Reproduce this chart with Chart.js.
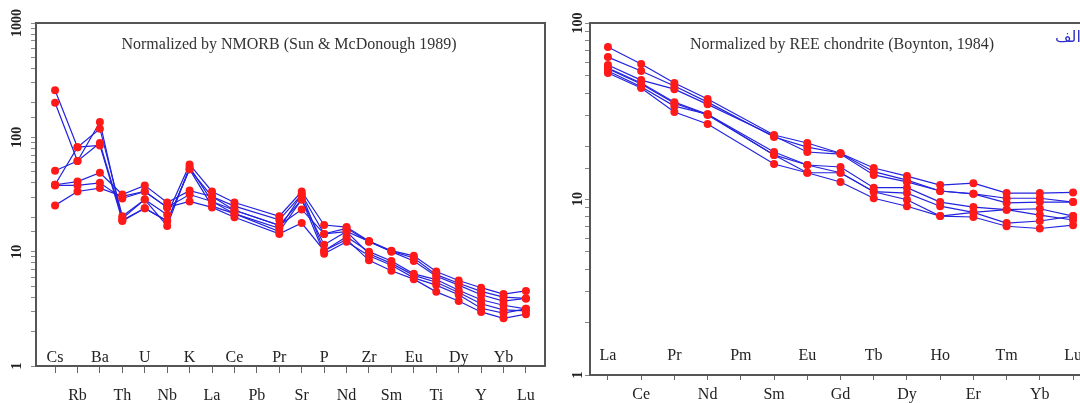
<!DOCTYPE html>
<html>
<head>
<meta charset="utf-8">
<script src="https://cdn.jsdelivr.net/npm/chart.js@4.4.1/dist/chart.umd.min.js"></script>
<style>
  html, body { margin: 0; padding: 0; background: #ffffff; overflow: hidden; width: 1080px; height: 403px; }
  #leftBox { position: absolute; left: 0; top: 0; width: 560px; height: 403px; }
  #rightBox { position: absolute; left: 555px; top: 0; width: 545px; height: 403px; }
</style>
</head>
<body>
<div id="leftBox"><canvas id="left" width="560" height="403"></canvas></div>
<div id="rightBox"><canvas id="right" width="545" height="403"></canvas></div>
<script>
// ---------- DATA ----------
const spiderElements = ['Cs','Rb','Ba','Th','U','Nb','K','La','Ce','Pb','Pr','Sr','P','Nd','Zr','Sm','Eu','Ti','Dy','Y','Yb','Lu'];
const spiderS1 = [258, 82, 119, 20.4, 28.6, 21, 58, 33.6, 26.9, null, 20.4, 33.6, 17.1, 16.4, 12.4, 10.2, 9.2, 6.7, 5.6, 4.84, 4.26, 4.54];
const spiderS2 = [201, 62, 136, 18.5, 24, 18.5, 52.5, 30.4, 25, null, 19, 31.6, 14.3, 16, 12.2, 10.1, 8.8, 6.3, 5.3, 4.5, 4.0, 3.9];
const spiderS3 = [51, 62, 89, 19.5, 28.6, 16.8, 55, 27.5, 23, null, 17, 28.6, 11.5, 15, 12.3, 10.0, 8.3, 6.1, 5.1, 4.2, 3.7, 3.9];
const spiderS4 = [38.5, 82, 85, 18.8, 24, 18.5, 52.5, 25, 21.5, null, 16, 31.6, 10.2, 13.5, 10, 8.3, 6.4, 5.7, 4.6, 3.8, 3.4, 3.16];
const spiderS5 = [38.5, 41, 49, 31.6, 38, 26.9, 34.2, 30.4, 23, null, 17, 23.4, 14.3, 15, 9.6, 7.9, 6.2, 5.4, 4.4, 3.5, 3.1, 3.03];
const spiderS6 = [38, 38, 40, 29.2, 33.6, 24.4, 31.6, 27.5, 21.5, null, 15, 28.6, 9.6, 12.2, 9.2, 7.6, 5.9, 5.1, 4.2, 3.2, 2.9, 3.16];
const spiderS7 = [25.4, 33.6, 36, 30.5, 33.6, 24.4, 27.5, 24.4, 20, null, 14.3, 17.8, 10.2, 12.8, 8.4, 6.8, 5.75, 4.45, 3.7, 2.97, 2.61, 2.84];

const reeElements = ['La','Ce','Pr','Nd','Pm','Sm','Eu','Gd','Tb','Dy','Ho','Er','Tm','Yb','Lu'];
const reeR1 = [73, 58.5, 45.6, 37, null, 23.1, 20.8, 18.2, 15, 13.5, 12, 12.3, 10.8, 10.8, 10.9];
const reeR2 = [64, 53.4, 43.9, 35.5, null, 22.5, 19.7, 18.2, 14.3, 12.8, 11.1, 10.7, 10.1, 10.1, 9.6];
const reeR3 = [57.7, 47.4, 42.1, 34.5, null, 22.8, 18.5, 18.0, 13.7, 12.5, 11.1, 10.7, 9.5, 9.6, 9.6];
const reeR4 = [55.5, 45.6, 35.5, 30.3, null, 18.5, 15.6, 15.2, 11.6, 11.6, 9.6, 9.0, 8.7, 8.8, 8.0];
const reeR5 = [53.4, 43.4, 33.7, 30.3, null, 17.8, 15.6, 14.1, 11.0, 10.8, 9.1, 8.4, 8.7, 8.1, 7.6];
const reeR6 = [52, 42.7, 31.2, 26.7, null, 15.8, 14.1, 12.5, 10.1, 9.1, 8.0, 7.9, 7.0, 6.8, 7.1];
const reeR7 = [55, 45, 35, 30, null, 17.8, 14.1, 14.1, 11, 9.9, 8.0, 8.4, 7.3, 7.5, 8.0];

const spiderYTicks = [1, 10, 100, 1000];
const reeYTicks = [1, 10, 100];
const spiderTitle = 'Normalized by NMORB (Sun & McDonough 1989)';
const reeTitle = 'Normalized by REE chondrite (Boynton, 1984)';
const cornerLabel = 'الف';

// ---------- STYLE ----------
const LINE = 'rgb(35,35,222)';
const DOT = '#ff1a1a';
const SERIF = '"Liberation Serif", "Times New Roman", serif';

function toPoints(arr) {
  return arr.map((v, i) => (v == null ? null : { x: i, y: v })).filter(p => p);
}

function buildDatasets(samples) {
  const ds = [];
  samples.forEach(s => {
    ds.push({ data: toPoints(s), showLine: true, borderColor: LINE, borderWidth: 1.2, pointRadius: 0, fill: false, order: 2, tension: 0 });
  });
  samples.forEach(s => {
    ds.push({ data: toPoints(s), showLine: false, pointRadius: 4, pointBackgroundColor: DOT, pointBorderWidth: 0, pointBorderColor: DOT, order: 1 });
  });
  return ds;
}

function makeDecor(opts) {
  return {
    id: 'decor',
    afterDraw(chart) {
      const ctx = chart.ctx;
      const a = chart.chartArea;
      const xs = chart.scales.x, ys = chart.scales.y;
      ctx.save();
      ctx.strokeStyle = '#555';
      ctx.lineWidth = 2;
      ctx.strokeRect(a.left, a.top, a.right - a.left, a.bottom - a.top);
      ctx.fillStyle = '#222';
      ctx.font = '16px ' + SERIF;
      ctx.textAlign = 'center';
      ctx.textBaseline = 'middle';
      opts.cats.forEach((c, i) => {
        if (i % 2 === 0) ctx.fillText(c, xs.getPixelForValue(i), opts.innerY);
      });
      ctx.fillStyle = '#333';
      ctx.font = '16px ' + SERIF;
      ctx.fillText(opts.title, opts.titleX, opts.titleY);
      ctx.fillStyle = '#222';
      ctx.font = 'bold 14px ' + SERIF;
      opts.yTicks.forEach(v => {
        const y = ys.getPixelForValue(v);
        ctx.save();
        ctx.translate(opts.yLabelX, y);
        ctx.rotate(-Math.PI / 2);
        ctx.textAlign = 'center';
        ctx.textBaseline = 'middle';
        ctx.fillText(String(v), 0, 0);
        ctx.restore();
      });
      if (opts.corner) {
        ctx.fillStyle = '#3030c8';
        ctx.font = '16px "DejaVu Sans", sans-serif';
        ctx.textAlign = 'left';
        ctx.textBaseline = 'middle';
        ctx.fillText(opts.corner, opts.cornerX, opts.cornerY);
      }
      ctx.restore();
    }
  };
}

function makeChart(canvasId, cats, samples, cfg) {
  return new Chart(document.getElementById(canvasId), {
    type: 'line',
    data: { datasets: buildDatasets(samples) },
    options: {
      responsive: false,
      animation: false,
      devicePixelRatio: 1,
      layout: { padding: { top: cfg.top, right: cfg.right, left: 0, bottom: 0 } },
      plugins: { legend: { display: false }, tooltip: { enabled: false }, title: { display: false } },
      scales: {
        x: {
          type: 'linear',
          min: -cfg.off,
          max: cats.length - 1 + cfg.off,
          afterBuildTicks: s => { s.ticks = cats.map((c, i) => ({ value: i })); },
          afterFit: s => { s.height = cfg.xH; },
          border: { display: false },
          grid: { drawOnChartArea: false, drawTicks: true, tickLength: cfg.tickLen, color: '#666', lineWidth: 1 },
          ticks: {
            autoSkip: false, maxRotation: 0, minRotation: 0, padding: cfg.pad,
            color: '#222', font: { family: SERIF, size: 16 },
            callback: (v) => (Number.isInteger(v) && v % 2 === 1 ? cats[v] : '')
          }
        },
        y: {
          type: 'logarithmic',
          min: 1,
          max: cfg.ymax,
          afterFit: s => { s.width = cfg.yW; },
          border: { display: false },
          grid: { drawOnChartArea: false, drawTicks: true, tickLength: 5, color: '#888', lineWidth: 1 },
          ticks: { display: false }
        }
      }
    },
    plugins: [makeDecor(cfg.decor)]
  });
}

makeChart('left', spiderElements,
  [spiderS1, spiderS2, spiderS3, spiderS4, spiderS5, spiderS6, spiderS7],
  { top: 23, right: 15, off: 0.85, xH: 37, yW: 36, tickLen: 7, pad: 13, ymax: 1000,
    decor: { cats: spiderElements, innerY: 358, title: spiderTitle, titleX: 289, titleY: 45, yTicks: spiderYTicks, yLabelX: 17 } });

makeChart('right', reeElements,
  [reeR1, reeR2, reeR3, reeR4, reeR5, reeR6, reeR7],
  { top: 23, right: 9, off: 0.54, xH: 28, yW: 35, tickLen: 5, pad: 5, ymax: 100,
    decor: { cats: reeElements, innerY: 356, title: reeTitle, titleX: 842 - 555, titleY: 45, yTicks: reeYTicks, yLabelX: 23, corner: cornerLabel, cornerX: 500, cornerY: 38 } });
</script>
</body>
</html>
